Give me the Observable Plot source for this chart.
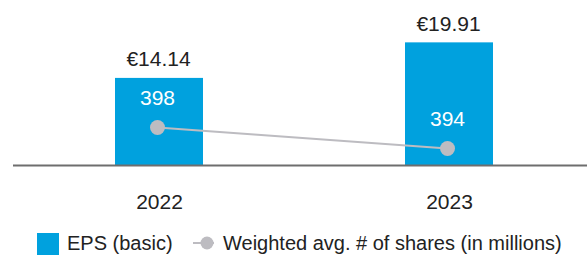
<!DOCTYPE html>
<html><head><meta charset="utf-8">
<script src="https://cdn.jsdelivr.net/npm/d3@7"></script>
<script src="https://cdn.jsdelivr.net/npm/@observablehq/plot@0.6"></script>
<style>
body{margin:0;background:#fff;font-family:"Liberation Sans",Arial,sans-serif;}
#wrap{position:relative;width:587px;height:215px;}
#wrap svg{position:absolute;left:0;top:0;}
#legend{position:absolute;top:231px;left:0;width:587px;height:24px;font-size:20px;line-height:24px;color:#222;}
#legend .it{position:absolute;top:0;height:24px;white-space:nowrap;}
</style></head><body>
<div id="wrap"></div>
<div id="legend"></div>
<script>
const years = ["2022", "2023"];
const eps = [14.14, 19.91];
const shares = [398, 394];
const legendLabels = ["EPS (basic)", "Weighted avg. # of shares (in millions)"];

const blue = "#00a1de";
const grey = "#bdbcc1";
const W = 587, H = 215;
const data = years.map((y, i) => ({year: y, eps: eps[i], shares: shares[i]}));

const xOpts = {type: "band", domain: years, paddingInner: 0.6966, paddingOuter: 0, range: [115, 493], label: null};
const common = {width: W, height: H, marginLeft: 13, marginRight: 0, marginTop: 20, marginBottom: 50,
  style: {fontFamily: '"Liberation Sans", Arial, sans-serif', background: "transparent", overflow: "visible"}};

const p1 = Plot.plot({
  ...common,
  x: {...xOpts},
  y: {domain: [0, 23.54], axis: null},
  marks: [
    Plot.barY(data, {x: "year", y: "eps", fill: blue}),
    Plot.ruleY([0], {stroke: "#6e6e6e", strokeWidth: 2}),
    Plot.text(data, {x: "year", y: "eps", text: d => "€" + d.eps.toFixed(2), lineAnchor: "bottom", dy: -12, dx: -1, fontSize: 21, fill: "#222"}),
    Plot.axisX({tickSize: 0, tickPadding: 29, fontSize: 21, color: "#222", label: null})
  ]
});

const p2 = Plot.plot({
  ...common,
  x: {...xOpts, axis: null},
  y: {domain: [390.76, 418.38], axis: null},
  marks: [
    Plot.lineY(data, {x: "year", y: "shares", stroke: grey, strokeWidth: 2, dx: -2}),
    Plot.dot(data, {x: "year", y: "shares", r: 7.5, fill: grey, dx: -2}),
    Plot.text(data, {x: "year", y: "shares", text: d => String(d.shares), lineAnchor: "bottom", dy: -22, dx: -2, fontSize: 21, fill: "#fff"})
  ]
});

const wrap = document.getElementById("wrap");
wrap.append(p1, p2);

const lg = document.getElementById("legend");
lg.innerHTML = `
<span class="it" style="left:37px;"><span style="display:inline-block;width:22px;height:22px;background:${blue};vertical-align:top;margin-top:2px;"></span></span>
<span class="it" style="left:67px;">${legendLabels[0]}</span>
<span class="it" style="left:193px;"><svg width="24" height="24" style="vertical-align:top"><line x1="0" x2="21" y1="12" y2="12" stroke="${grey}" stroke-width="2"/><circle cx="14" cy="12" r="6.5" fill="${grey}"/></svg></span>
<span class="it" style="left:223px;">${legendLabels[1]}</span>`;
</script>
</body></html>
